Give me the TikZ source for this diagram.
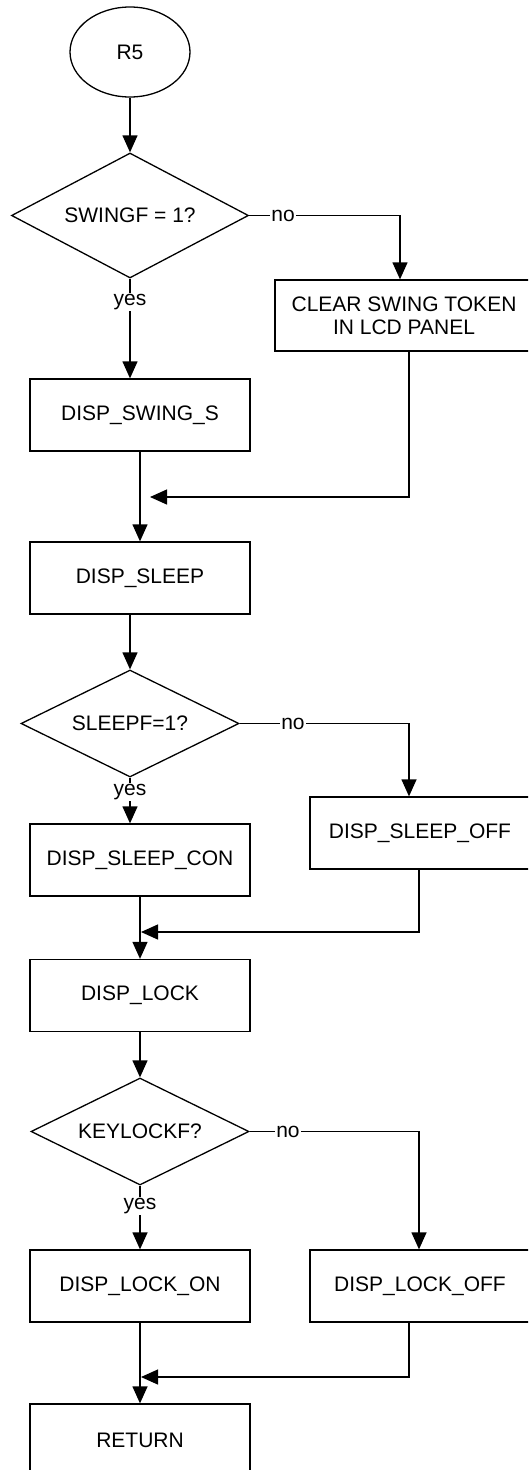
\documentclass[tikz,border=0pt]{standalone}
\usepackage{fontspec}
\setmainfont{Liberation Sans}
\usetikzlibrary{shapes.geometric,arrows.meta}
\begin{document}
\begin{tikzpicture}[x=1pt,y=-1pt,
  every node/.style={font=\fontsize{21}{23}\selectfont},
  proc/.style={draw, line width=1.3pt, rectangle, minimum width=220pt, minimum height=72pt, inner sep=0pt, align=center},
  dec/.style={draw, line width=1.3pt, diamond, inner sep=0pt},
  term/.style={draw, line width=1.3pt, ellipse, minimum width=120pt, minimum height=90pt, inner sep=0pt},
  flow/.style={line width=1.3pt, -{Triangle[length=17pt,width=15pt]}},
  lbl/.style={fill=white, inner sep=1pt}]
\useasboundingbox (0,0) rectangle (528,1470);
\clip (0,0) rectangle (528,1470);
\fill[white] (0,0) rectangle (528,1470);

\node[term] (r5) at (130,52) {R5};
\node[dec, minimum width=237pt, minimum height=125pt, aspect=1.9] (d1) at (130,215.5) {SWINGF = 1?};
\node[proc, minimum width=258pt, minimum height=71pt] (clear) at (404,315.5) {CLEAR SWING TOKEN\\IN LCD PANEL};
\node[proc] (swing) at (140,415) {DISP\_SWING\_S};
\node[proc] (sleep) at (140,578) {DISP\_SLEEP};
\node[dec, minimum width=218pt, minimum height=107pt, aspect=2] (d2) at (130,723.5) {SLEEPF=1?};
\node[proc] (sleepoff) at (420,833) {DISP\_SLEEP\_OFF};
\node[proc] (sleepcon) at (140,860) {DISP\_SLEEP\_CON};
\node[proc] (lock) at (140,995.5) {DISP\_LOCK};
\node[dec, minimum width=218pt, minimum height=107pt, aspect=2] (d3) at (140,1131.5) {KEYLOCKF?};
\node[proc] (lockoff) at (420,1286) {DISP\_LOCK\_OFF};
\node[proc] (lockon) at (140,1286) {DISP\_LOCK\_ON};
\node[proc] (ret) at (140,1440) {RETURN};

\coordinate (m1) at (150,497);
\coordinate (m2) at (141,932);
\coordinate (m3) at (141,1377);

\draw[flow] (r5) -- (d1);
\draw[flow] (d1.east) -| ([xshift=-4pt]clear.north);
\draw[flow] (d1.south) -- (d1.south |- swing.north);
\draw[flow] ([xshift=5pt]clear.south) |- (m1);
\draw[flow] (swing) -- (sleep);
\draw[flow] (d2.north |- sleep.south) -- (d2.north);
\draw[flow] (d2.east) -| ([xshift=-11pt]sleepoff.north);
\draw[flow] (d2.south) -- (d2.south |- sleepcon.north);
\draw[flow] ([xshift=-1pt]sleepoff.south) |- (m2);
\draw[flow] (sleepcon) -- (lock);
\draw[flow] (lock) -- (d3);
\draw[flow] (d3.east) -| ([xshift=-1pt]lockoff.north);
\draw[flow] (d3) -- (lockon);
\draw[flow] ([xshift=-11pt]lockoff.south) |- (m3);
\draw[flow] (lockon) -- (ret);

\node[lbl] (no1) at (283,215.5) {no};
\node[lbl] (yes1) at (130,302) {yes};
\node[lbl] (no2) at (293,723.5) {no};
\node[lbl] (yes2) at (130,792) {yes};
\node[lbl] (no3) at (288,1131.5) {no};
\node[lbl] (yes3) at (140,1206) {yes};
\end{tikzpicture}
\end{document}
